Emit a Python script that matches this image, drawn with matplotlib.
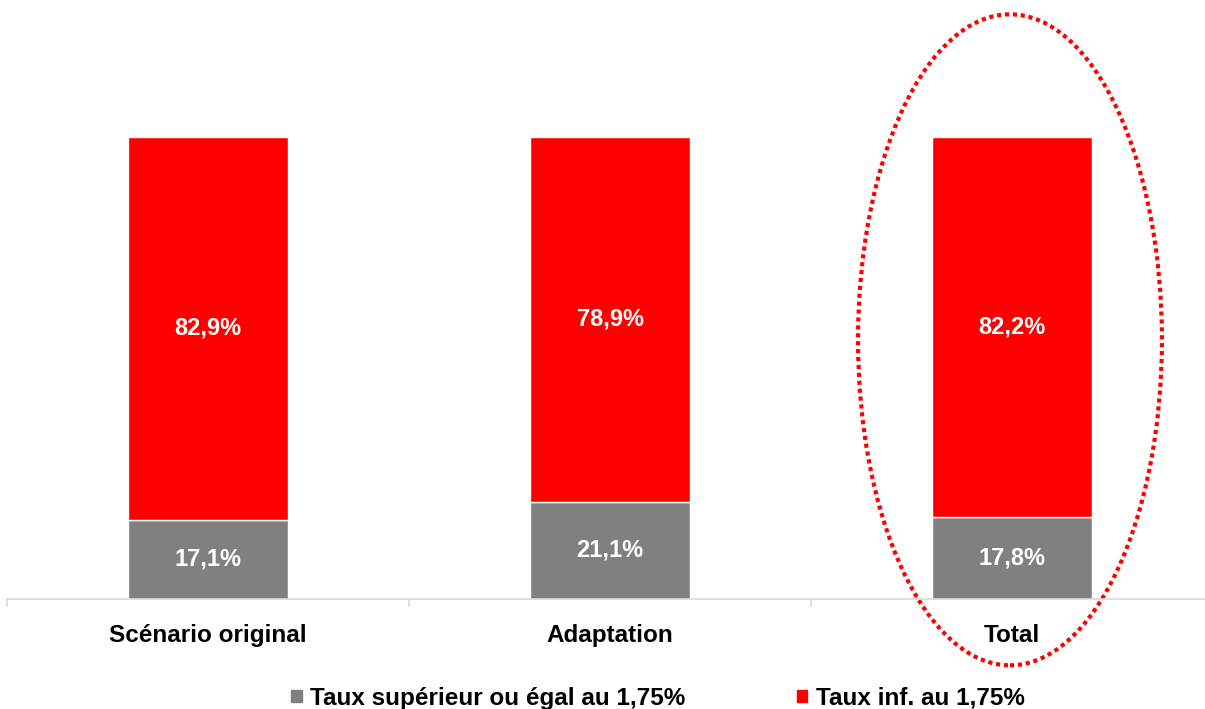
import matplotlib.pyplot as plt
from matplotlib.patches import Ellipse, Patch
import numpy as np

plt.rcParams['font.family'] = ['Liberation Sans', 'DejaVu Sans']

# scenario categories and the two rate shares (percent)
categories = ['Scénario original', 'Adaptation', 'Total']
share_high = [17.1, 21.1, 17.8]   # Taux supérieur ou égal au 1,75%
share_low = [82.9, 78.9, 82.2]    # Taux inf. au 1,75%
series_names = ['Taux supérieur ou égal au 1,75%', 'Taux inf. au 1,75%']

grey = '#808080'
red = '#ff0000'

fig = plt.figure(figsize=(12.05, 7.09), dpi=100)
ax = fig.add_axes([7 / 1205, 110 / 709, 1206 / 1205, 462 / 709])

x = np.arange(len(categories))
high = np.array(share_high) / 100
low = np.array(share_low) / 100

ax.bar(x, high, width=0.4, color=grey, edgecolor='white', linewidth=1)
ax.bar(x, low, width=0.4, bottom=high, color=red, edgecolor='white', linewidth=1)

# value labels in the middle of each segment
for i in range(len(categories)):
    ax.text(x[i], high[i] / 2, f"{share_high[i]:.1f}%".replace('.', ','),
            ha='center', va='center', color='white', fontsize=17, fontweight='bold')
    ax.text(x[i], high[i] + low[i] / 2, f"{share_low[i]:.1f}%".replace('.', ','),
            ha='center', va='center', color='white', fontsize=17, fontweight='bold')

ax.set_xlim(-0.5, len(categories) - 0.5)
ax.set_ylim(0, 1)

# category axis: light line with boundary ticks, no y axis
for side in ['left', 'right', 'top']:
    ax.spines[side].set_visible(False)
ax.spines['bottom'].set_color('#d9d9d9')
ax.spines['bottom'].set_linewidth(1.2)
ax.set_yticks([])
ax.set_xticks(x)
ax.set_xticklabels(categories, fontsize=17.5, fontweight='bold')
ax.tick_params(axis='x', which='major', length=0, pad=18)
ax.set_xticks(np.arange(-0.5, len(categories)), minor=True)
ax.tick_params(axis='x', which='minor', length=6, color='#d9d9d9', width=1.2)

# dotted ellipse highlighting the total
ax.add_patch(Ellipse((1.995, 0.561), 0.756, 1.409, fill=False, edgecolor=red,
                     linewidth=3, linestyle=(0, (1, 0.9)), clip_on=False))

handles = [Patch(color=grey), Patch(color=red)]
fig.legend(handles, series_names, loc='center', ncol=2,
           bbox_to_anchor=(658 / 1205, 1 - 698 / 709), frameon=False,
           prop={'weight': 'bold', 'size': 17.5},
           handlelength=0.42, handleheight=0.42, handletextpad=0.35,
           columnspacing=4.6, borderpad=0)

fig.savefig('out.png', dpi=100)
